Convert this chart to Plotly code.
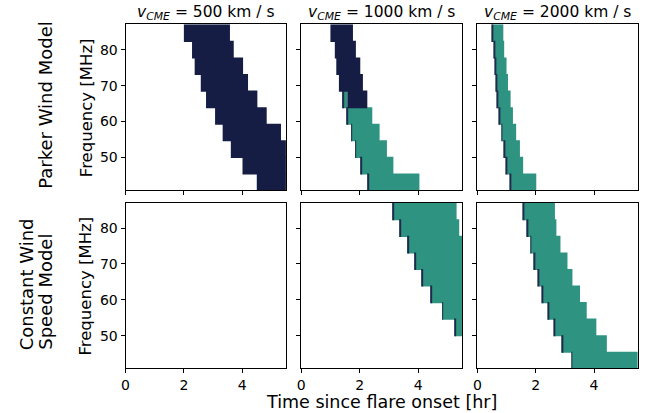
import plotly.graph_objects as go
from plotly.subplots import make_subplots

# ---------------- data ----------------
freq_edges = [40.9, 45.52, 50.14, 54.76, 59.38, 64.0, 68.62, 73.24, 77.86, 82.48, 87.1]  # MHz band edges
speed_labels = ["500", "1000", "2000"]
row_labels = ["Parker Wind Model", "Constant Wind", "Speed Model"]

# onset / end times [hr] for each frequency band (lowest band first); None = no emission
parker500_navy_start = [4.50, 4.01, 3.61, 3.33, 3.07, 2.76, 2.58, 2.37, 2.28, 2.00]
parker500_navy_end = [5.5, 5.5, 5.5, 5.33, 4.84, 4.52, 4.20, 4.03, 3.71, 3.58]

parker1000_navy_start = [None, None, None, None, None, 1.58, 1.29, 1.20, 1.15, 1.00]
parker1000_navy_end = [None, None, None, None, None, 2.26, 2.11, 2.02, 1.87, 1.77]
parker1000_teal_start = [2.28, 2.04, 1.85, 1.71, 1.57, 1.41, None, None, None, None]
parker1000_teal_end = [4.04, 3.15, 2.93, 2.68, 2.43, 1.58, None, None, None, None]

parker2000_teal_start = [1.13, 0.99, 0.91, 0.83, 0.75, 0.68, 0.64, 0.61, 0.57, 0.51]
parker2000_teal_end = [2.02, 1.57, 1.46, 1.33, 1.22, 1.14, 1.05, 1.00, 0.92, 0.89]

const1000_teal_start = [None, None, 5.26, 4.82, 4.43, 4.13, 3.88, 3.63, 3.38, 3.13]
const1000_teal_end = [None, None, 5.5, 5.5, 5.5, 5.5, 5.5, 5.5, 5.40, 5.31]

const2000_teal_start = [3.23, 2.89, 2.63, 2.43, 2.22, 2.09, 1.93, 1.82, 1.69, 1.57]
const2000_teal_end = [5.5, 4.44, 4.08, 3.75, 3.52, 3.26, 3.09, 2.85, 2.71, 2.66]

x_ticks = [0, 2, 4]
y_ticks = [50, 60, 70, 80]

# ---------------- style ----------------
NAVY = "#161d45"
TEAL = "#2e9380"
SLIVER = "#1d2b4c"
FONT = "DejaVu Sans"
W, H = 648, 413
SEAM = 0.3  # MHz downward overlap to hide anti-aliasing seams between bands

fig = make_subplots(rows=2, cols=3)


def add_bands(row, col, starts, ends, color, sliver=False):
    ys, bs, xs, ws = [], [], [], []
    n = len(freq_edges) - 1
    for k in reversed(range(n)):  # top band first so lower bands sit above seams
        s, e = starts[k], ends[k]
        if s is None:
            continue
        lo, hi = freq_edges[k], freq_edges[k + 1]
        ys.append((lo - SEAM + hi) / 2)
        ws.append(hi - lo + SEAM)
        bs.append(s)
        xs.append(e - s)
    fig.add_trace(go.Bar(orientation="h", y=ys, x=xs, base=bs, width=ws,
                         marker=dict(color=color, line=dict(width=0)),
                         hoverinfo="skip"), row=row, col=col)
    if sliver:
        fig.add_trace(go.Bar(orientation="h", y=ys, x=[0.026] * len(ys), base=bs, width=ws,
                             marker=dict(color=SLIVER, line=dict(width=0)),
                             hoverinfo="skip"), row=row, col=col)


add_bands(1, 1, parker500_navy_start, parker500_navy_end, NAVY)
add_bands(1, 2, parker1000_teal_start, parker1000_teal_end, TEAL, sliver=True)
add_bands(1, 2, parker1000_navy_start, parker1000_navy_end, NAVY)
add_bands(1, 3, parker2000_teal_start, parker2000_teal_end, TEAL, sliver=True)
add_bands(2, 2, const1000_teal_start, const1000_teal_end, TEAL, sliver=True)
add_bands(2, 3, const2000_teal_start, const2000_teal_end, TEAL, sliver=True)
fig.add_trace(go.Bar(orientation="h", y=[], x=[]), row=2, col=1)

# panel placement in pixels
col_px = [(122.3, 283.7), (299.0, 461.0), (476.3, 637.7)]
row_px = [(24.3, 190.0), (202.7, 368.3)]

for r in range(2):
    for c in range(3):
        idx = r * 3 + c + 1
        xa = "xaxis" if idx == 1 else f"xaxis{idx}"
        ya = "yaxis" if idx == 1 else f"yaxis{idx}"
        common = dict(showline=True, mirror=True, linecolor="black", linewidth=1,
                      ticks="outside", ticklen=4, tickwidth=1, tickcolor="black",
                      showgrid=False, zeroline=False,
                      tickfont=dict(family=FONT, size=14, color="black"))
        fig.layout[xa].update(domain=[col_px[c][0] / W, col_px[c][1] / W],
                              range=[0, 5.5], tickvals=x_ticks,
                              showticklabels=(r == 1), **common)
        fig.layout[ya].update(domain=[1 - row_px[r][1] / H, 1 - row_px[r][0] / H],
                              range=[freq_edges[0], freq_edges[-1]], tickvals=y_ticks,
                              showticklabels=(c == 0), **common)

ann = []
for c, sp in enumerate(speed_labels):
    ann.append(dict(x=(col_px[c][0] + col_px[c][1]) / 2 / W, y=1 - 13 / H,
                    xref="paper", yref="paper", xanchor="center", yanchor="middle",
                    text=f"<i>v</i><sub><i>CME</i></sub> = {sp} km / s", showarrow=False,
                    font=dict(family=FONT, size=15.5, color="black")))
for r in range(2):
    yc = 1 - (row_px[r][0] + row_px[r][1]) / 2 / H
    ann.append(dict(x=82.5 / W, y=yc, xref="paper", yref="paper",
                    xanchor="center", yanchor="middle", textangle=-90,
                    text="Frequency [MHz]", showarrow=False,
                    font=dict(family=FONT, size=16.5, color="black")))
ann.append(dict(x=41 / W, y=1 - 105 / H, xref="paper", yref="paper",
                xanchor="center", yanchor="middle", textangle=-90,
                text=row_labels[0], showarrow=False,
                font=dict(family=FONT, size=18, color="black")))
ann.append(dict(x=22.5 / W, y=1 - 352 / H, xref="paper", yref="paper",
                xanchor="center", yanchor="bottom", textangle=-90,
                text=row_labels[1], showarrow=False,
                font=dict(family=FONT, size=18, color="black")))
ann.append(dict(x=41 / W, y=1 - 352 / H, xref="paper", yref="paper",
                xanchor="center", yanchor="bottom", textangle=-90,
                text=row_labels[2], showarrow=False,
                font=dict(family=FONT, size=18, color="black")))
ann.append(dict(x=380 / W, y=1 - 402 / H, xref="paper", yref="paper",
                xanchor="center", yanchor="middle",
                text="Time since flare onset [hr]", showarrow=False,
                font=dict(family=FONT, size=17.5, color="black")))

fig.update_layout(width=W, height=H, margin=dict(l=0, r=0, t=0, b=0),
                  paper_bgcolor="white", plot_bgcolor="white",
                  barmode="overlay", showlegend=False, annotations=ann,
                  font=dict(family=FONT, color="black"))

fig.write_html("out.html")
